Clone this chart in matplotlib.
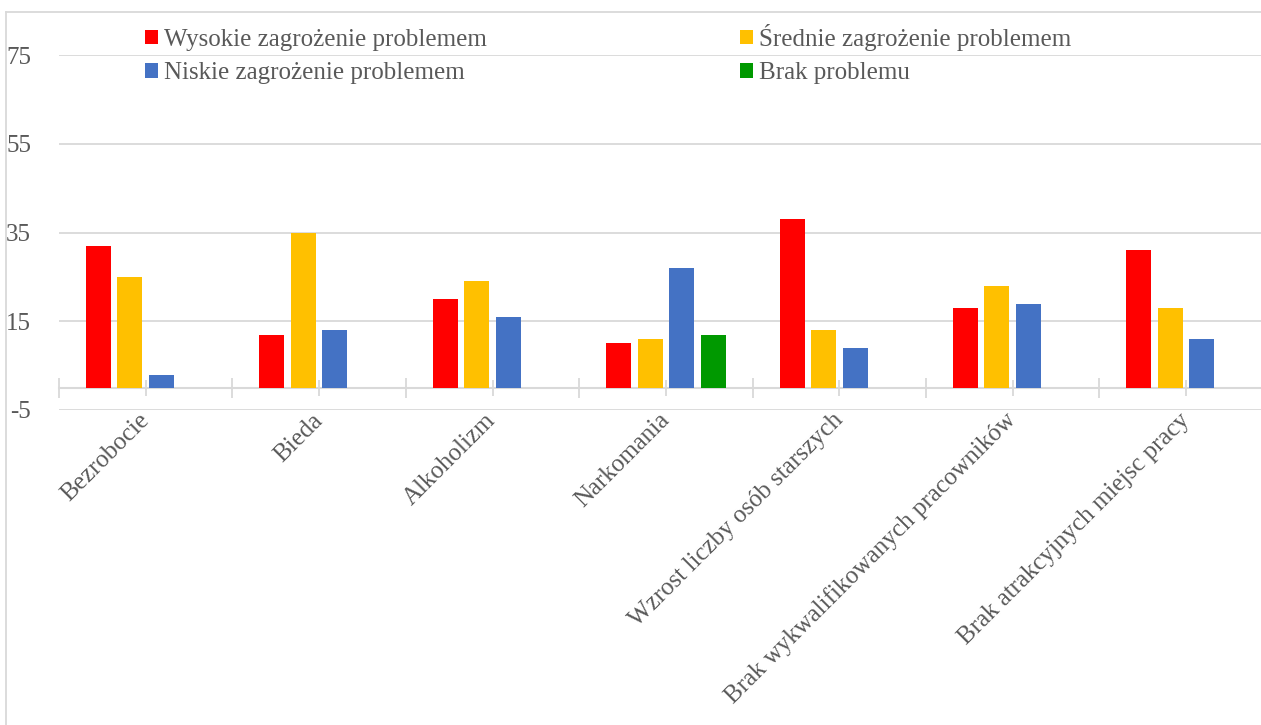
import numpy as np
import matplotlib
matplotlib.use("Agg")
import matplotlib.pyplot as plt
from matplotlib.patches import Patch
from matplotlib.lines import Line2D

categories = ["Bezrobocie", "Bieda", "Alkoholizm", "Narkomania",
              "Wzrost liczby osób starszych",
              "Brak wykwalifikowanych pracowników",
              "Brak atrakcyjnych miejsc pracy"]
series_names = ["Wysokie zagrożenie problemem", "Średnie zagrożenie problemem",
                "Niskie zagrożenie problemem", "Brak problemu"]
wysokie = [32, 12, 20, 10, 38, 18, 31]
srednie = [25, 35, 24, 11, 13, 23, 18]
niskie = [3, 13, 16, 27, 9, 19, 11]
brak = [None, None, None, 12, None, None, None]
colors = ["#FF0000", "#FFC000", "#4472C4", "#009900"]
yticks = [-5, 15, 35, 55, 75]

W, H = 1261, 725
fig = plt.figure(figsize=(W / 100, H / 100), dpi=100)
FONT = "Liberation Serif"
TXT = "#595959"
GRID = "#d9d9d9"
FS = 18

left_px, right_px, top_px, bottom_px = 59, 1261, 55, 410
ax = fig.add_axes([left_px / W, 1 - bottom_px / H,
                   (right_px - left_px) / W, (bottom_px - top_px) / H])

cat_w = 173.4
x = np.arange(len(categories))
slot = 31.5 / cat_w
bw = 25 / cat_w
all_series = [wysokie, srednie, niskie, brak]
for k, (vals, c) in enumerate(zip(all_series, colors)):
    v = np.array([np.nan if a is None else a for a in vals], dtype=float)
    ax.bar(x + (k - 1.5) * slot, v, width=bw, color=c, zorder=3)

ax.set_xlim(-0.5, -0.5 + (right_px - left_px) / cat_w)
ax.set_ylim(-5, 75)
ax.set_yticks(yticks)
ax.set_yticklabels([str(t) for t in yticks], fontsize=FS, color=TXT, family=FONT)
ax.yaxis.grid(True, color=GRID, linewidth=1.3, zorder=0)
ax.tick_params(axis="y", length=0, pad=20)
for s in ax.spines.values():
    s.set_visible(False)

ax.set_xticks(x)
ax.set_xticklabels(categories, rotation=45, ha="right", va="center",
                   rotation_mode="anchor", fontsize=FS, color=TXT, family=FONT)
ax.tick_params(axis="x", length=0, pad=5)

# category axis at y = 0
sec = ax.secondary_xaxis(5 / 80)
sec.set_xticks(np.arange(len(categories) + 1) - 0.5)
sec.set_xticks(x, minor=True)
sec.tick_params(which="major", direction="inout", length=15, width=1.3,
                color=GRID, labelbottom=False, labeltop=False)
sec.tick_params(which="minor", direction="inout", length=11, width=1.3,
                color=GRID, labelbottom=False, labeltop=False)
for s in sec.spines.values():
    s.set_color(GRID)
    s.set_linewidth(1.5)

# legends
h = [Patch(facecolor=c, edgecolor="none") for c in colors]
legkw = dict(frameon=False, borderpad=0, borderaxespad=0, handlelength=0.5,
             handleheight=0.5, handletextpad=0.25, labelspacing=0.45,
             prop={"family": FONT, "size": FS}, labelcolor=TXT, loc="upper left",
             bbox_transform=fig.transFigure)
leg1 = fig.legend([h[0], h[2]], [series_names[0], series_names[2]],
                  bbox_to_anchor=(145 / W, 1 - 29 / H), **legkw)
leg2 = fig.legend([h[1], h[3]], [series_names[1], series_names[3]],
                  bbox_to_anchor=(740 / W, 1 - 24 / H), **legkw)

# chart frame
fig.add_artist(Line2D([6 / W, 1], [1 - 12 / H, 1 - 12 / H], transform=fig.transFigure,
                      color=GRID, linewidth=1.3))
fig.add_artist(Line2D([6 / W, 6 / W], [0, 1 - 12 / H], transform=fig.transFigure,
                      color=GRID, linewidth=1.3))

fig.savefig("out.png", dpi=100, facecolor="white")
